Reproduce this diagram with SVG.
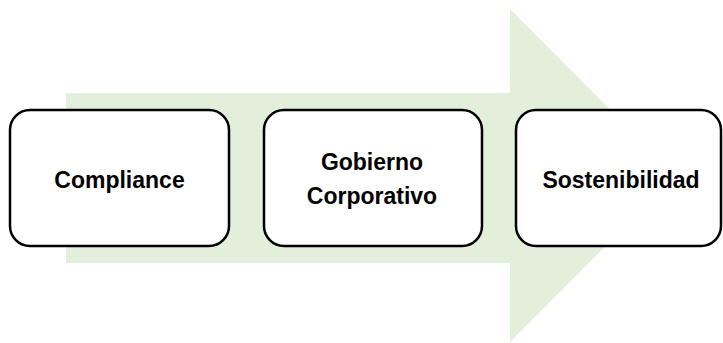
<svg xmlns="http://www.w3.org/2000/svg" width="723" height="343" viewBox="0 0 723 343">
<style>
.node rect{fill:#ffffff;stroke:#000000;stroke-width:2.5}
.node text{font-family:"Liberation Sans",Arial,sans-serif;font-weight:bold;font-size:23px;fill:#000000;text-anchor:middle}
</style>
<rect width="723" height="343" fill="#ffffff"/>
<g id="connectors">
<polygon points="66,93 510,93 510,9 676,175.5 510,342 510,263 66,263" fill="#e2efda"/>
</g>
<g id="node-compliance" class="node">
<rect x="10" y="110" width="219" height="136" rx="20" ry="20"/>
<text x="119.5" y="188">Compliance</text>
</g>
<g id="node-gobierno" class="node">
<rect x="264" y="110" width="218" height="136" rx="20" ry="20"/>
<text x="372" y="170">Gobierno</text>
<text x="372" y="204">Corporativo</text>
</g>
<g id="node-sostenibilidad" class="node">
<rect x="516" y="110" width="205" height="136" rx="20" ry="20"/>
<text x="621" y="188">Sostenibilidad</text>
</g>
</svg>
